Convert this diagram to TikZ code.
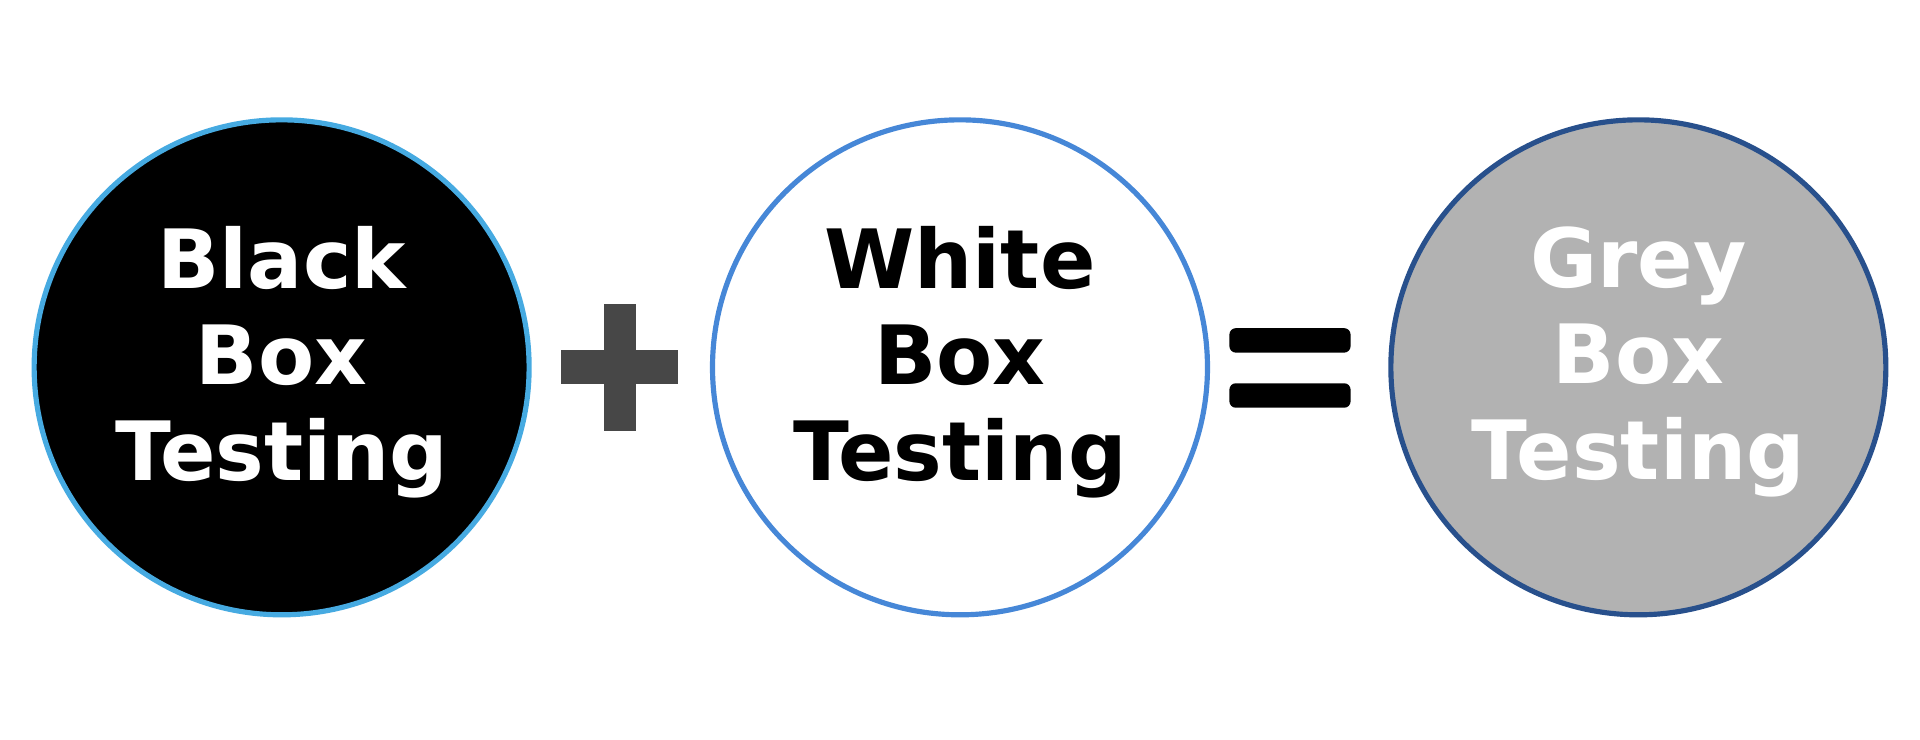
\documentclass[tikz,border=0pt]{standalone}
\usepackage{fontspec}
\setmainfont{DejaVu Sans}
\begin{document}
\begin{tikzpicture}[x=0.01cm,y=-0.01cm,
  circ/.style={circle,minimum size=4.04cm,inner sep=0pt,line width=1.2pt},
  lbl/.style={align=center,font=\fontsize{19}{22.3}\selectfont\bfseries}]
\useasboundingbox (0,0) rectangle (1568,604);
\node[circ,draw={rgb,255:red,70;green,170;blue,225},fill=black] (b) at (230,300) {};
\node[circ,draw={rgb,255:red,70;green,135;blue,215},fill=white] (w) at (784,300) {};
\node[circ,draw={rgb,255:red,40;green,80;blue,140},fill={rgb,255:red,178;green,178;blue,178}] (g) at (1338,300) {};
\node[lbl,text=white] (bt) at (230,296) {Black\\Box\\Testing};
\node[lbl,text=black] (wt) at (784,296) {White\\Box\\Testing};
\node[lbl,text=white] (gt) at (1338,296) {Grey\\Box\\Testing};
\fill[black!72] (493,248) rectangle (519,352);
\fill[black!72] (458,286) rectangle (554,314);
\fill[black,rounded corners=1.5pt] (1004,268) rectangle (1103,288);
\fill[black,rounded corners=1.5pt] (1004,313) rectangle (1103,333);
\end{tikzpicture}
\end{document}
